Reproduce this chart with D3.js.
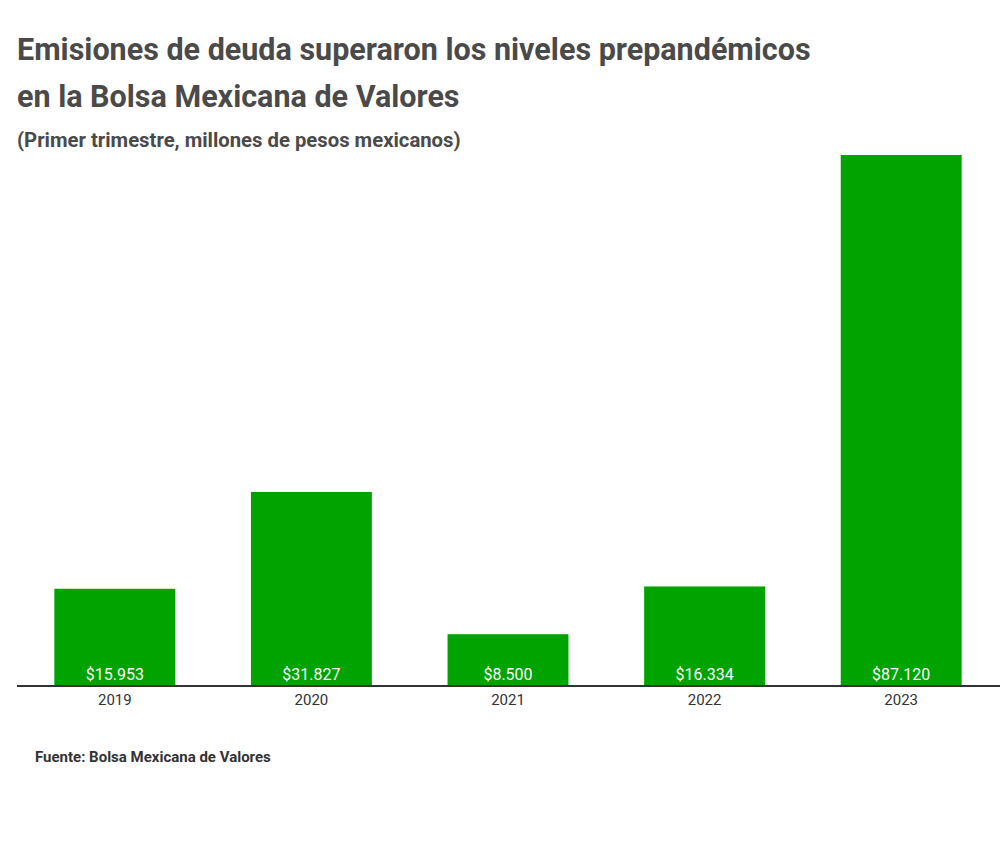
<!DOCTYPE html>
<html><head><meta charset="utf-8">
<script src="https://cdn.jsdelivr.net/npm/d3@7"></script>
<style>body{margin:0;background:#fff;font-family:Roboto,"Noto Sans",sans-serif;}</style>
</head><body>
<svg id="chart" width="1000" height="846"></svg>
<script>
const years = ["2019", "2020", "2021", "2022", "2023"];
const values = [15953, 31827, 8500, 16334, 87120];
const valueLabels = ["$15.953", "$31.827", "$8.500", "$16.334", "$87.120"];

const svg = d3.select("#chart");
const baseY = 686, topY = 155;

svg.append("text").attr("x", 17).attr("y", 60).attr("font-size", 30.5).attr("font-weight", 700)
  .attr("fill", "#4a4a4a").text("Emisiones de deuda superaron los niveles prepandémicos");
svg.append("text").attr("x", 17).attr("y", 107).attr("font-size", 30.5).attr("font-weight", 700)
  .attr("fill", "#4a4a4a").text("en la Bolsa Mexicana de Valores");
svg.append("text").attr("x", 17).attr("y", 147).attr("font-size", 20.3).attr("font-weight", 700)
  .attr("fill", "#4a4a4a").text("(Primer trimestre, millones de pesos mexicanos)");

const x = d3.scaleBand().domain(years).range([17, 999]).paddingInner(0.385).paddingOuter(0.19);
const y = d3.scaleLinear().domain([0, 87120]).range([baseY, topY]);

svg.selectAll("rect.bar").data(years).join("rect").attr("class", "bar")
  .attr("x", d => x(d)).attr("width", x.bandwidth())
  .attr("y", (d, i) => y(values[i])).attr("height", (d, i) => baseY - y(values[i]))
  .attr("fill", "#00a300");

svg.selectAll("text.val").data(years).join("text").attr("class", "val")
  .attr("x", d => x(d) + x.bandwidth() / 2).attr("y", baseY - 6)
  .attr("text-anchor", "middle").attr("font-size", 16).attr("fill", "#fff")
  .text((d, i) => valueLabels[i]);

const axis = svg.append("g").attr("transform", `translate(0,${baseY})`)
  .call(d3.axisBottom(x).tickSize(0).tickPadding(8));
axis.select(".domain").attr("stroke", "#333").attr("stroke-width", 2).attr("d", "M17,0H1000");
axis.selectAll("text").attr("font-size", 15).attr("fill", "#333").attr("font-family", "Roboto,sans-serif");

svg.append("text").attr("x", 35).attr("y", 762).attr("font-size", 15).attr("font-weight", 700)
  .attr("fill", "#333").text("Fuente: Bolsa Mexicana de Valores");
</script>
</body></html>
